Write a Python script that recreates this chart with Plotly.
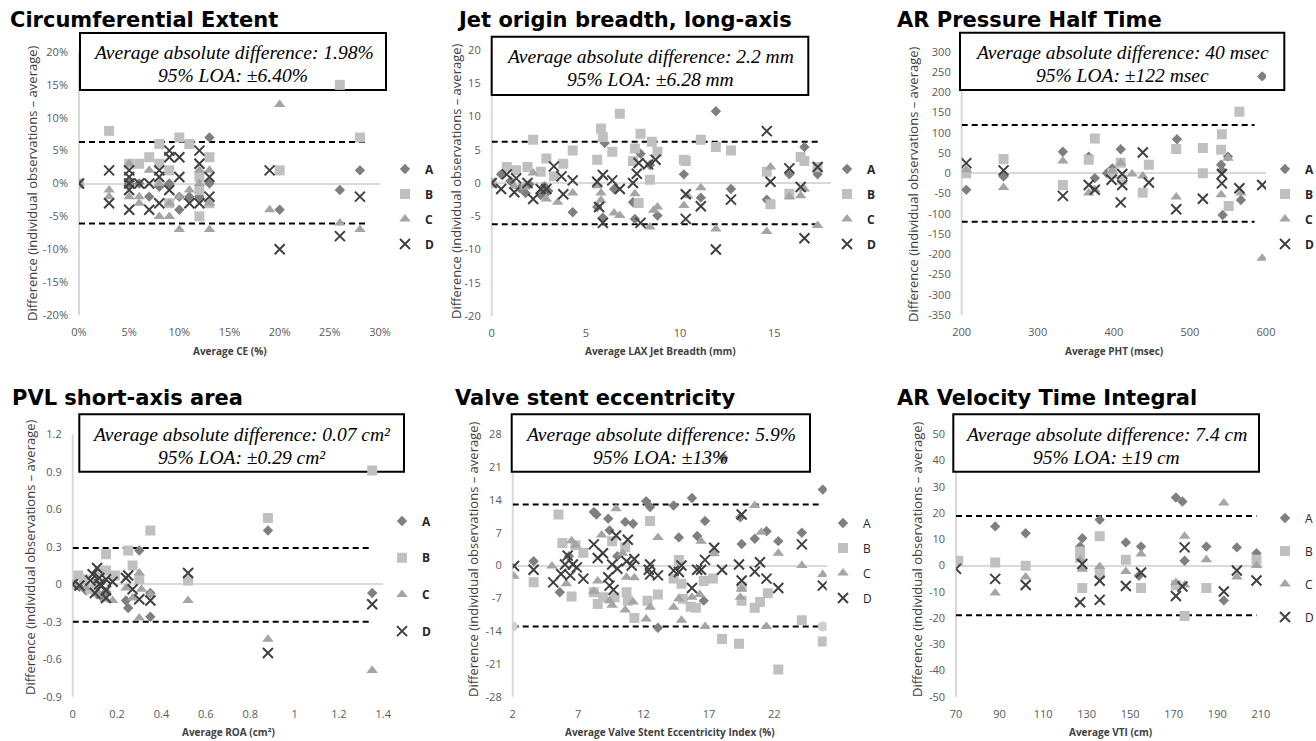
import plotly.graph_objects as go

W, H = 1316, 741

# ------------------------------------------------------------------ DATA
SERIES = ["A", "B", "C", "D"]

# Panel 1 – Circumferential Extent (%)
ce_A_x = [0, 13, 9, 7, 10, 10, 13, 28, 26, 20, 11, 8, 12, 5, 6]
ce_A_y = [0, 7, 0, -2, -2, -4, 0, 2, -1, -4, -2, -0.5, -2, 0, 0]
ce_B_x = [0, 3, 5, 6, 7, 8, 8, 9, 10, 11, 12, 12, 13, 13, 20, 26, 28, 12, 9]
ce_B_y = [0, 8, 3, 3, 4, 6, 3, 2, 7, 6, -1, -5, 4, -3, 2, 15, 7, 1, -3]
ce_C_x = [0, 3, 3, 5, 5, 6, 6, 7, 8, 8, 9, 9, 10, 11, 12, 12, 13, 13, 13, 19, 20, 26, 28, 10]
ce_C_y = [0, -1, -2, 3, -2, -2, -3, 2, -5, 0, -5, -3, -7, -1, 2, 0, -7, 2, -3, -4, 12, -6, -7, -2]
ce_D_x = [0, 3, 3, 5, 5, 5, 5, 5, 6, 7, 7, 8, 8, 8, 9, 9, 9, 10, 10, 11, 12, 12, 12, 13, 13, 19, 20, 26, 28]
ce_D_y = [0, 2, -3, 2, 1, 0, -1, -4, 0, 0, -4, 2, 1, -3, 5, 4, -1, 4, 1, -3, 5, 3, -3, 1, -2, 2, -10, -8, -2]
ce_loa = [6.3, -6.1]
ce_loa_x = [0, 28.5]
ce_xticks = [0, 5, 10, 15, 20, 25, 30]
ce_xlabels = ["0%", "5%", "10%", "15%", "20%", "25%", "30%"]
ce_yticks = [-20, -15, -10, -5, 0, 5, 10, 15, 20]
ce_ylabels = ["-20%", "-15%", "-10%", "-5%", "0%", "5%", "10%", "15%", "20%"]

# Panel 2 – Jet origin breadth, long-axis (mm)
lax_A_x = [0, 0.5, 1.0, 1.5, 2.0, 2.6, 3.0, 4.3, 5.6, 6.0, 5.9, 6.5, 7.5, 7.6, 7.9, 8.8, 8.4, 10.2, 11.1, 11.9, 12.7, 14.6, 15.8, 16.6, 17.3, 1.8, 2.8]
lax_A_y = [0, 1.3, 0.3, -0.8, -0.2, -1.8, -1.2, -4.4, -3.6, 6.0, -5.2, -0.9, -2.9, -5.4, 4.4, -4.9, 2.7, 1.3, -2.2, 10.8, -0.9, -2.5, 1.3, 5.4, 1.3, -1.5, -0.5]
lax_B_x = [0, 0.8, 1.3, 1.9, 2.2, 2.6, 2.9, 3.3, 3.8, 4.3, 5.6, 5.8, 5.9, 6.4, 6.8, 7.6, 7.5, 7.9, 7.8, 8.4, 8.5, 8.8, 10.2, 10.3, 11.1, 11.9, 12.7, 14.6, 14.8, 15.8, 16.4, 16.6, 17.3]
lax_B_y = [0, 2.4, 1.9, 2.4, 6.5, 1.7, 3.7, 1.0, 2.9, 4.9, 3.5, 8.2, 6.9, 4.7, 10.4, 5.2, 3.3, 7.4, -3.0, 0.5, 6.2, 4.7, 3.5, 3.3, 6.5, 5.4, 4.9, 1.7, -3.2, -1.6, 3.9, 3.3, 2.4]
lax_C_x = [0, 1.2, 1.7, 2.2, 2.9, 3.5, 4.3, 5.6, 5.8, 5.8, 6.5, 6.8, 7.6, 8.4, 8.6, 8.8, 10.2, 10.4, 11.1, 11.9, 14.6, 14.8, 15.8, 16.4, 16.6, 17.3]
lax_C_y = [0, -0.5, -0.6, 1.5, -2.4, -2.9, -1.5, -0.4, -1.5, -2.6, -4.5, -4.9, -1.6, -6.6, -4.1, -3.6, -3.4, -1.9, -0.7, -6.9, -7.3, 2.4, -2.1, -1.9, -0.9, -6.4]
lax_D_x = [0, 0.5, 0.8, 1.3, 1.2, 1.9, 2.2, 2.6, 2.9, 3.3, 3.7, 3.8, 4.3, 5.6, 5.7, 5.9, 5.9, 6.4, 6.8, 7.5, 7.7, 7.8, 7.9, 8.3, 8.7, 10.3, 10.3, 11.1, 11.9, 12.7, 14.6, 14.8, 15.8, 16.4, 16.6, 17.3]
lax_D_y = [0, -0.9, 1.3, 0.7, -1.4, 0, -2.4, -0.9, -0.9, 2.5, 1.0, -1.7, 0.4, 0.2, -3.6, 1.2, -6.0, 0.4, -0.9, 0, 1.4, 3.0, -6.0, 2.8, 3.5, -1.7, -5.4, -3.5, -10.0, -2.5, 7.8, 0.2, 2.2, -0.6, -8.3, 2.4]
lax_loa = [6.2, -6.2]
lax_loa_x = [0, 17.4]
lax_xticks = [0, 5, 10, 15]
lax_xlabels = ["0", "5", "10", "15"]
lax_yticks = [-20, -15, -10, -5, 0, 5, 10, 15, 20]
lax_ylabels = ["-20", "-15", "-10", "-5", "0", "5", "10", "15", "20"]

# Panel 3 – AR Pressure Half Time (msec)
pht_A_x = [206, 255, 333, 367, 375, 391, 398, 409, 411, 483, 541, 543, 550, 567, 595, 542]
pht_A_y = [-41, -8, 53, 41, -12, 0, 12, 59, -16, 84, 21, -103, 41, -66, 239, 7]
pht_B_x = [206, 255, 333, 367, 375, 398, 409, 411, 438, 446, 482, 517, 517, 541, 542, 551, 565]
pht_B_y = [0, 35, -29, 33, 86, 0, 26, -16, -48, 21, 60, 62, 0, 58, 96, -81, 152]
pht_C_x = [206, 255, 333, 367, 375, 398, 409, 424, 438, 482, 541, 550, 567, 595]
pht_C_y = [8, -35, 30, -49, -41, 4, 25, -2, -7, -59, -53, 37, -49, -210]
pht_D_x = [206, 255, 333, 367, 375, 397, 411, 411, 409, 438, 446, 482, 517, 542, 542, 565, 595]
pht_D_y = [25, 7, -56, -29, -41, -16, -2, -29, -72, 51, -23, -89, -63, -2, -25, -37, -29]
pht_loa = [119, -120]
pht_loa_x = [200, 585]
pht_xticks = [200, 300, 400, 500, 600]
pht_xlabels = ["200", "300", "400", "500", "600"]
pht_yticks = [-350, -300, -250, -200, -150, -100, -50, 0, 50, 100, 150, 200, 250, 300]
pht_ylabels = ["-350", "-300", "-250", "-200", "-150", "-100", "-50", "0", "50", "100", "150", "200", "250", "300"]

# Panel 4 – PVL short-axis area (cm²)
roa_A_x = [0, 0.06, 0.11, 0.13, 0.15, 0.24, 0.25, 0.30, 0.35, 0.35, 0.88, 1.35, 0.52, 0.03]
roa_A_y = [0, -0.05, -0.08, -0.1, -0.06, -0.13, -0.19, 0.27, -0.26, -0.07, 0.43, -0.07, 0.03, -0.02]
roa_B_x = [0, 0.025, 0.05, 0.15, 0.15, 0.19, 0.25, 0.27, 0.30, 0.35, 0.52, 0.88, 1.35, 0.11, 0.08, 0.12]
roa_B_y = [0, 0.07, 0.04, 0.11, 0.24, 0.07, 0.27, 0.15, 0.04, 0.43, 0.03, 0.53, 0.91, 0, -0.04, 0.1]
roa_C_x = [0, 0.06, 0.12, 0.18, 0.24, 0.27, 0.30, 0.30, 0.35, 0.52, 0.88, 1.35, 0.31, 0.15]
roa_C_y = [0, -0.03, -0.08, -0.13, -0.03, -0.11, 0.09, -0.27, -0.08, -0.13, -0.44, -0.69, -0.04, -0.12]
roa_D_x = [0, 0.03, 0.08, 0.09, 0.11, 0.12, 0.13, 0.15, 0.15, 0.15, 0.18, 0.24, 0.25, 0.27, 0.30, 0.35, 0.52, 0.88, 1.35, 0.10, 0.12]
roa_D_y = [0, -0.01, 0.03, 0.08, 0.13, 0.05, -0.01, 0.04, -0.05, -0.11, 0.02, 0.05, 0.07, -0.04, -0.12, -0.13, 0.09, -0.55, -0.16, -0.07, 0.0]
roa_loa = [0.29, -0.30]
roa_loa_x = [0, 1.35]
roa_xticks = [0, 0.2, 0.4, 0.6, 0.8, 1.0, 1.2, 1.4]
roa_xlabels = ["0", "0.2", "0.4", "0.6", "0.8", "1", "1.2", "1.4"]
roa_yticks = [-0.9, -0.6, -0.3, 0, 0.3, 0.6, 0.9, 1.2]
roa_ylabels = ["-0.9", "-0.6", "-0.3", "0", "0.3", "0.6", "0.9", "1.2"]

# Panel 5 – Valve stent eccentricity (%)
vse_A_x = [3.6, 5.6, 8.2, 8.4, 9.3, 9.4, 10.6, 11.2, 12.2, 12.5, 13.1, 14.3, 14.7, 15.7, 16.1, 16.7, 16.6, 19.4, 19.5, 20.5, 21.4, 22.3, 24.1, 25.7, 18.1, 6.3, 10.0]
vse_A_y = [0.9, -5.7, 11.4, 10.9, 10.0, 7.5, 9.3, 8.9, 13.7, 12.5, -13.3, 12.8, 6.0, 14.4, 6.3, 9.5, -7.5, 10.3, 4.6, 5.7, 7.3, 5.2, 7.0, 16.2, 23.0, 2.0, 2.0]
vse_B_x = [3.6, 5.5, 5.8, 6.5, 6.8, 7.4, 8.2, 8.5, 8.9, 9.6, 9.8, 10.6, 10.7, 10.8, 11.3, 12.3, 12.5, 13.1, 14.3, 14.7, 14.9, 15.0, 15.6, 16.0, 16.6, 17.3, 18.0, 19.3, 19.5, 20.5, 20.9, 21.5, 22.3, 24.1, 25.7, 19.5]
vse_B_y = [-3.6, 10.9, 4.8, -6.6, 4.3, 2.7, -5.7, -8.2, -6.8, 5.2, -6.8, 3.9, -5.7, -7.5, -11.2, -7.5, 9.5, -6.2, -2.8, 1.2, -3.9, -7.1, -8.8, -9.0, -3.3, -2.8, -15.7, -16.7, -7.5, -9.0, -7.8, -5.9, -22.2, -11.7, -16.2, -4.6]
vse_C_x = [2.1, 5.0, 6.1, 6.5, 6.8, 8.2, 8.5, 8.8, 9.4, 9.6, 9.9, 10.4, 10.6, 10.7, 11.2, 11.3, 12.2, 12.5, 13.1, 14.3, 14.7, 14.9, 15.7, 16.3, 16.4, 16.7, 17.4, 19.4, 19.5, 20.5, 21.0, 21.4, 22.3, 24.1, 25.7]
vse_C_y = [-2.3, -0.1, -3.9, 5.3, 4.3, -5.5, -3.3, 6.5, -7.5, -8.5, 12.1, 2.6, -9.5, -2.5, -7.8, -2.6, -11.4, -8.9, 6.0, -8.9, -7.1, -11.7, -6.8, -6.2, 5.2, -13.0, 2.5, -6.8, -5.0, 12.8, 7.1, -13.0, 2.6, 0, -1.9]
vse_D_x = [2.1, 3.6, 5.1, 5.7, 6.0, 6.2, 6.4, 6.6, 6.9, 7.4, 8.2, 8.5, 8.9, 9.3, 9.4, 9.6, 9.7, 9.9, 10.0, 10.7, 10.8, 11.1, 11.3, 12.4, 12.5, 12.5, 13.1, 14.3, 14.7, 14.9, 15.7, 16.1, 16.4, 16.7, 17.4, 18.0, 19.3, 19.5, 19.5, 20.5, 20.9, 21.4, 22.3, 24.1, 25.7]
vse_D_y = [-0.1, -0.9, -3.6, -1.8, 0.2, 2.1, -2.1, 0.2, -0.4, -2.8, 4.5, 1.6, 2.6, -2.5, -4.3, 0.2, -5.2, 6.4, -0.7, 0.9, 5.5, 0, 1.4, -0.9, 0.2, -1.9, -2.1, -1.1, -1.4, 0, -4.8, -0.9, -0.9, 1.2, 3.8, -0.9, 0.2, -3.2, 10.9, -1.3, 0.7, -2.8, -4.8, 4.5, -4.3]
vse_loa = [13.0, -13.0]
vse_loa_x = [2, 25.7]
vse_xticks = [2, 7, 12, 17, 22]
vse_xlabels = ["2", "7", "12", "17", "22"]
vse_yticks = [-28, -21, -14, -7, 0, 7, 14, 21, 28]
vse_ylabels = ["-28", "-21", "-14", "-7", "0", "7", "14", "21", "28"]

# Panel 6 – AR Velocity Time Integral (cm)
vti_A_x = [88, 102, 127, 128, 136, 148, 155, 154, 171, 174, 175, 185, 193, 199, 208]
vti_A_y = [14.9, 12.3, 7.2, 10.4, 17.4, 8.8, 7.2, -3.9, 25.9, 24.4, 1.8, 7.2, -13.3, 6.9, 4.7]
vti_B_x = [71, 88, 102, 127, 128, 136, 136, 148, 155, 171, 175, 185, 208, 127]
vti_B_y = [1.8, 1.1, -0.1, 5.3, -8.6, 11.1, -3.2, 2.2, -8.6, -7.4, -19.2, -8.6, 2.2, 4.0]
vti_C_x = [88, 102, 127, 128, 136, 148, 155, 171, 175, 175, 185, 193, 199, 208]
vti_C_y = [-10.5, -4.4, 2.2, -1.4, -0.4, -2.3, 4.4, -6.5, 11.1, -7.4, 2.2, 23.8, -4.4, 0]
vti_D_x = [70, 88, 102, 127, 128, 136, 136, 148, 155, 171, 175, 174, 193, 199, 208]
vti_D_y = [-1.3, -5.1, -7.4, -14.0, 0.6, -5.8, -13.1, -7.8, -2.7, -11.6, 6.9, -8.0, -9.9, -1.9, -5.7]
vti_loa = [18.9, -19.0]
vti_loa_x = [70, 208]
vti_xticks = [70, 90, 110, 130, 150, 170, 190, 210]
vti_xlabels = ["70", "90", "110", "130", "150", "170", "190", "210"]
vti_yticks = [-50, -40, -30, -20, -10, 0, 10, 20, 30, 40, 50]
vti_ylabels = ["-50", "-40", "-30", "-20", "-10", "0", "10", "20", "30", "40", "50"]

# ------------------------------------------------------------------ STYLE / LAYOUT
def fx(p):
    return p / W


def fy(p):
    return 1 - p / H


STY = {
    "A": dict(symbol="diamond", size=8, color="#7f7f7f"),
    "B": dict(symbol="square", size=10, color="#c0c0c0"),
    "C": dict(symbol="triangle-up", size=10, color="#a5a5a5"),
    "D": dict(symbol="x-thin", size=10, color="#404040", line=dict(width=2, color="#404040")),
}

panels = [
    dict(title="Circumferential Extent", title_xy=(8, 20),
         xtitle="Average CE (%)", xtitle_xy=(230, 351),
         box=(80, 33, 386, 90),
         text=["Average absolute difference: 1.98%", "95% LOA: ±6.40%"],
         plot=(79, 52, 380, 315), xr=[0, 30], yr=[-20, 20],
         xt=(ce_xticks, ce_xlabels), yt=(ce_yticks, ce_ylabels),
         data={"A": (ce_A_x, ce_A_y), "B": (ce_B_x, ce_B_y), "C": (ce_C_x, ce_C_y), "D": (ce_D_x, ce_D_y)},
         loa=ce_loa, loa_x=ce_loa_x, ytitle_xy=(32, 183),
         leg=(405, 169), gap=6, bold=True, circles=False),
    dict(title="Jet origin breadth, long-axis", title_xy=(455, 20),
         xtitle="Average LAX Jet Breadth (mm)", xtitle_xy=(661, 351),
         box=(491.7, 36.7, 808.3, 95),
         text=["Average absolute difference: 2.2 mm", "95% LOA: ±6.28 mm"],
         plot=(491.7, 50, 830.8, 316), xr=[0, 18], yr=[-20, 20],
         xt=(lax_xticks, lax_xlabels), yt=(lax_yticks, lax_ylabels),
         data={"A": (lax_A_x, lax_A_y), "B": (lax_B_x, lax_B_y), "C": (lax_C_x, lax_C_y), "D": (lax_D_x, lax_D_y)},
         loa=lax_loa, loa_x=lax_loa_x, ytitle_xy=(456, 181),
         leg=(847, 169), gap=6, bold=True, circles=False),
    dict(title="AR Pressure Half Time", title_xy=(895, 20),
         xtitle="Average PHT (msec)", xtitle_xy=(1114, 351),
         box=(960, 32.7, 1284.3, 90),
         text=["Average absolute difference: 40 msec", "95% LOA: ±122 msec"],
         plot=(961.7, 51.7, 1266, 315), xr=[200, 600], yr=[-350, 300],
         xt=(pht_xticks, pht_xlabels), yt=(pht_yticks, pht_ylabels),
         data={"A": (pht_A_x, pht_A_y), "B": (pht_B_x, pht_B_y), "C": (pht_C_x, pht_C_y), "D": (pht_D_x, pht_D_y)},
         loa=pht_loa, loa_x=pht_loa_x, ytitle_xy=(913, 184),
         leg=(1285, 169), gap=6, bold=True, circles=False),
    dict(title="PVL short-axis area", title_xy=(10, 398),
         xtitle="Average ROA (cm²)", xtitle_xy=(228, 732),
         box=(79.3, 414.3, 404, 471.7),
         text=["Average absolute difference: 0.07 cm²", "95% LOA: ±0.29 cm²"],
         plot=(72.7, 434.3, 383.3, 696.7), xr=[0, 1.4], yr=[-0.9, 1.2],
         xt=(roa_xticks, roa_xlabels), yt=(roa_yticks, roa_ylabels),
         data={"A": (roa_A_x, roa_A_y), "B": (roa_B_x, roa_B_y), "C": (roa_C_x, roa_C_y), "D": (roa_D_x, roa_D_y)},
         loa=roa_loa, loa_x=roa_loa_x, ytitle_xy=(30, 557),
         leg=(402, 521), gap=17.7, bold=True, circles=False),
    dict(title="Valve stent eccentricity", title_xy=(453, 398),
         xtitle="Average Valve Stent Eccentricity Index (%)", xtitle_xy=(670, 732),
         box=(511.7, 414.3, 810, 471.7),
         text=["Average absolute difference: 5.9%", "95% LOA: ±13%"],
         plot=(512.7, 434.3, 826.7, 696.7), xr=[2, 26], yr=[-28, 28],
         xt=(vse_xticks, vse_xlabels), yt=(vse_yticks, vse_ylabels),
         data={"A": (vse_A_x, vse_A_y), "B": (vse_B_x, vse_B_y), "C": (vse_C_x, vse_C_y), "D": (vse_D_x, vse_D_y)},
         loa=vse_loa, loa_x=vse_loa_x, ytitle_xy=(473, 559),
         leg=(843, 523), gap=6, bold=False, circles=True),
    dict(title="AR Velocity Time Integral", title_xy=(895, 398),
         xtitle="Average VTI (cm)", xtitle_xy=(1110, 732),
         box=(953.3, 414.3, 1259, 471.7),
         text=["Average absolute difference: 7.4 cm", "95% LOA: ±19 cm"],
         plot=(956, 434.3, 1263, 696.7), xr=[70, 211], yr=[-50, 50],
         xt=(vti_xticks, vti_xlabels), yt=(vti_yticks, vti_ylabels),
         data={"A": (vti_A_x, vti_A_y), "B": (vti_B_x, vti_B_y), "C": (vti_C_x, vti_C_y), "D": (vti_D_x, vti_D_y)},
         loa=vti_loa, loa_x=vti_loa_x, ytitle_xy=(917, 559),
         leg=(1285, 518), gap=14, bold=False, circles=False),
]

TICKFONT = dict(family="Open Sans", size=11, color="#595959")
AXCOL = "#d9d9d9"
SERIF = "Liberation Serif, Times New Roman, Times, serif"

fig = go.Figure()
layout = dict(
    width=W, height=H,
    margin=dict(l=0, r=0, t=0, b=0, autoexpand=False),
    paper_bgcolor="white", plot_bgcolor="white",
    shapes=[], annotations=[],
)

for i, p in enumerate(panels, start=1):
    sfx = "" if i == 1 else str(i)
    xa, ya = "x" + sfx, "y" + sfx
    leg = "legend" + sfx
    x0, y0, x1, y1 = p["plot"]

    # LOA dashed lines
    for k, v in enumerate(p["loa"]):
        circ = p["circles"] and k == 1
        fig.add_trace(go.Scatter(
            x=p["loa_x"], y=[v, v], xaxis=xa, yaxis=ya,
            mode="lines+markers" if circ else "lines",
            line=dict(color="black", width=2, dash="6px,4px"),
            marker=dict(symbol="circle", size=10, color="#cfcfcf"),
            showlegend=False, hoverinfo="skip", legend=leg))

    # data series
    for s in SERIES:
        xs, ys = p["data"][s]
        st = STY[s]
        mk = dict(symbol=st["symbol"], size=st["size"], color=st["color"])
        mk["line"] = st.get("line", dict(width=0))
        fig.add_trace(go.Scatter(
            x=xs, y=ys, xaxis=xa, yaxis=ya, mode="markers", name=s,
            marker=mk, legend=leg, legendgroup=f"p{i}{s}"))

    layout["xaxis" + sfx] = dict(
        domain=[fx(x0), fx(x1)], range=p["xr"], anchor=ya,
        tickmode="array", tickvals=p["xt"][0], ticktext=p["xt"][1],
        showgrid=False, zeroline=False, showline=False, ticks="",
        tickfont=TICKFONT, ticklabelstandoff=9, fixedrange=True)
    layout["yaxis" + sfx] = dict(
        domain=[fy(y1), fy(y0)], range=p["yr"], anchor=xa,
        tickmode="array", tickvals=p["yt"][0], ticktext=p["yt"][1],
        showgrid=False, zeroline=True, zerolinecolor=AXCOL, zerolinewidth=2,
        showline=False, ticks="", tickfont=TICKFONT, ticklabelstandoff=10,
        fixedrange=True)

    # vertical axis line, then the text box above it
    layout["shapes"].append(dict(
        type="line", xref="paper", yref="paper", x0=fx(x0), x1=fx(x0),
        y0=fy(y1), y1=fy(y0), line=dict(color=AXCOL, width=2), layer="below"))
    bx0, by0, bx1, by1 = p["box"]
    layout["shapes"].append(dict(
        type="rect", xref="paper", yref="paper", x0=fx(bx0), x1=fx(bx1),
        y0=fy(by1), y1=fy(by0), line=dict(color="black", width=2),
        fillcolor="white", layer="below"))

    # box text (two lines, tight line spacing)
    bcx, bcy = (bx0 + bx1) / 2, (by0 + by1) / 2
    for line_txt, dy in zip(p["text"], (-9.0, 14.0)):
        layout["annotations"].append(dict(
            xref="paper", yref="paper", x=fx(bcx), y=fy(bcy + dy),
            xanchor="center", yanchor="middle", showarrow=False,
            text=line_txt,
            font=dict(family=SERIF, size=19.5, color="black", style="italic")))
    # panel title
    tx, ty = p["title_xy"]
    layout["annotations"].append(dict(
        xref="paper", yref="paper", x=fx(tx), y=fy(ty), xanchor="left", yanchor="middle",
        showarrow=False, text=p["title"],
        font=dict(family="DejaVu Sans", size=21, color="black", weight="bold")))
    # axis titles
    ax_, ay_ = p["xtitle_xy"]
    layout["annotations"].append(dict(
        xref="paper", yref="paper", x=fx(ax_), y=fy(ay_), xanchor="center", yanchor="middle",
        showarrow=False, text="<b>" + p["xtitle"] + "</b>",
        font=dict(family="Open Sans", size=10, color="#404040")))
    yx_, yy_ = p["ytitle_xy"]
    layout["annotations"].append(dict(
        xref="paper", yref="paper", x=fx(yx_), y=fy(yy_), xanchor="center", yanchor="middle",
        showarrow=False, textangle=-90,
        text="Difference (individual observations – average)",
        font=dict(family="Open Sans", size=13, color="#404040")))

    # legend
    mx, my = p["leg"]
    layout[leg] = dict(
        x=fx(mx - 20), y=fy(my - 14.5), xanchor="left", yanchor="top",
        xref="paper", yref="paper", bgcolor="rgba(0,0,0,0)", borderwidth=0,
        tracegroupgap=p["gap"], traceorder="grouped", itemwidth=30,
        font=dict(family="Open Sans", size=12, color="#262626",
                  weight="bold" if p["bold"] else "normal"))

fig.update_layout(**layout)
fig.write_html("out.html", config={"displayModeBar": False},
               post_script="document.body.style.margin='0px';")
